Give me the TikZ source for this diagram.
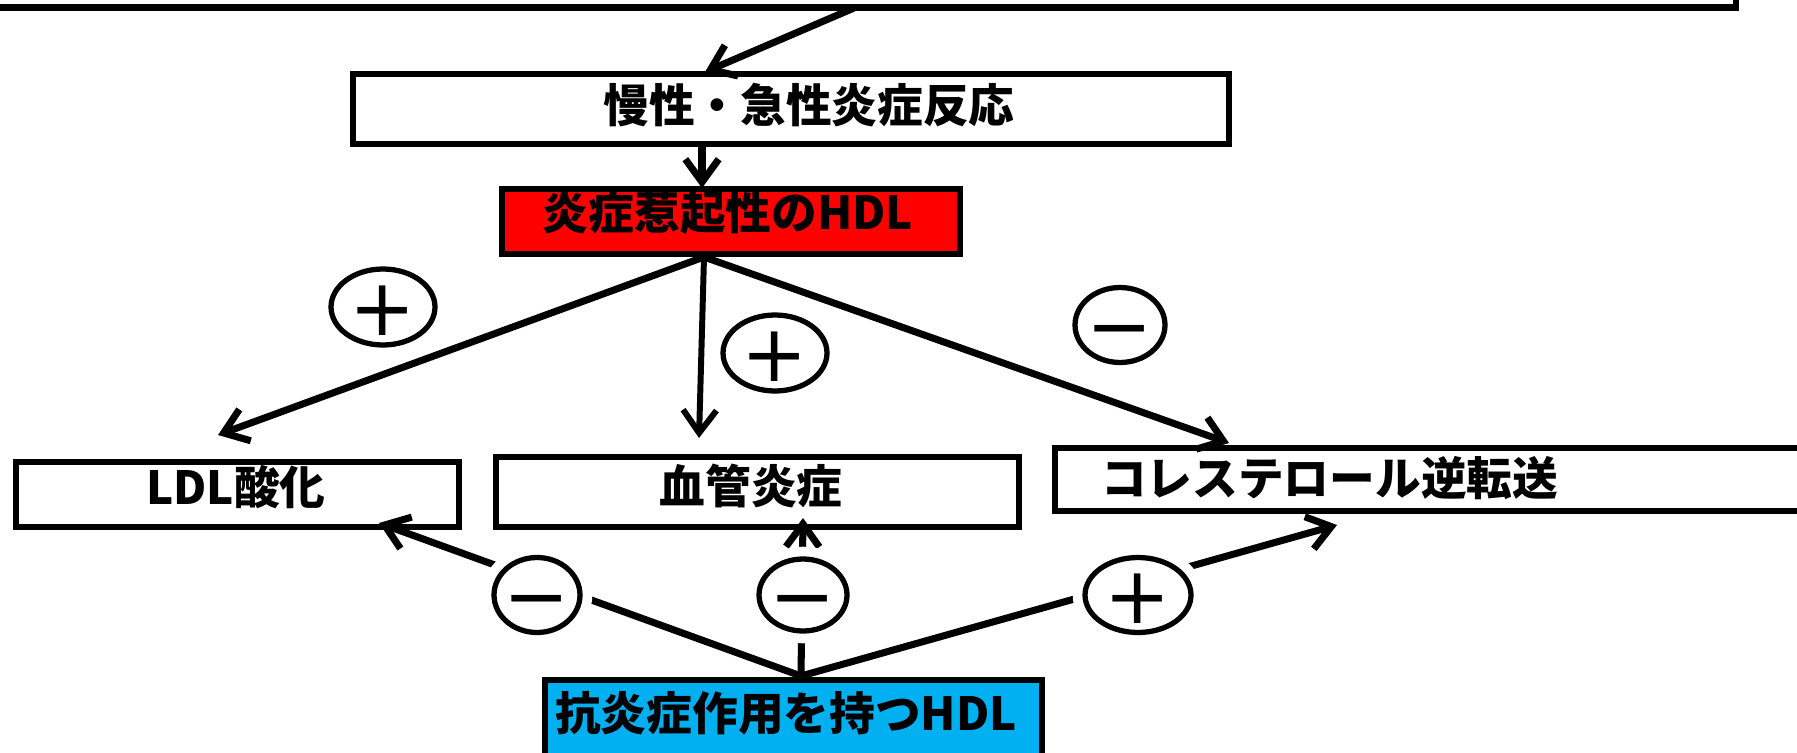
\documentclass[tikz,border=0pt]{standalone}
\usepackage{fontspec}
\newfontfamily\jp{Noto Sans CJK JP}
\newfontfamily\signfont{DejaVu Sans}
\usetikzlibrary{arrows.meta,shapes.geometric}
\definecolor{hdlred}{RGB}{255,0,0}
\definecolor{hdlblue}{RGB}{0,176,240}
\newcommand\sgn[1]{\raisebox{-0.358em}{\makebox[0pt]{#1}}}
\begin{document}
\begin{tikzpicture}[x=0.02cm,y=-0.02cm,
  box/.style={draw=black,line width=3.6pt,rectangle,inner sep=0pt,fill=white},
  txt/.style={font=\jp\bfseries\fontsize{26}{30}\selectfont,inner sep=0pt},
  arr/.style={line width=4pt,-{Straight Barb[length=13pt,width=19pt]}},
  sign/.style={ellipse,draw=black,line width=3pt,fill=white,inner sep=0pt,
    text height=0pt,text depth=0pt,font=\signfont\fontsize{45}{45}\selectfont},
  gap/.style={preaction={draw=white,line width=14pt}},
]
\useasboundingbox (0,0) rectangle (1797,753);

% boxes
\node[box,minimum width=35.52cm,minimum height=1.35cm] (top) at (848,-26.25) {};
\node[box,minimum width=17.52cm,minimum height=1.4cm,
  label={[txt,xshift=0.36cm,yshift=0.08cm]center:慢性・急性炎症反応}] (mansei) at (791,109) {};
\node[box,fill=hdlred,minimum width=9.16cm,minimum height=1.3cm,
  label={[txt,xshift=-0.06cm,yshift=0.17cm]center:炎症惹起性のHDL}] (red) at (731,221.5) {};
\node[box,minimum width=8.86cm,minimum height=1.3cm,
  label={[txt,xshift=-0.03cm,yshift=0.15cm]center:LDL酸化}] (ldl) at (237.5,494.5) {};
\node[box,minimum width=10.46cm,minimum height=1.4cm,
  label={[txt,xshift=-0.13cm,yshift=0.12cm]center:血管炎症}] (kekkan) at (757.5,492) {};
\node[box,minimum width=15.7cm,minimum height=1.26cm,
  label={[txt,anchor=west,xshift=0.98cm,yshift=0.03cm]west:コレステロール逆転送}] (chol) at (1447.5,479.5) {};
\node[box,fill=hdlblue,minimum width=9.94cm,minimum height=2.8cm,
  label={[txt,xshift=-0.15cm,yshift=0.74cm]center:抗炎症作用を持つHDL}] (blue) at (793.5,750) {};

% connector end points
\coordinate (topOut) at (854,8);
\coordinate (manseiIn) at (705,72);
\coordinate (manseiOut) at (702,146);
\coordinate (redIn) at (702,188);
\coordinate (redOut) at (704,257);
\coordinate (ldlIn) at (218,435);
\coordinate (kekkanIn) at (699,438);
\coordinate (cholIn) at (1229,443);
\coordinate (blueOut) at (801,676);
\coordinate (ldlIn2) at (379,523);
\coordinate (kekkanIn2) at (803,518);
\coordinate (cholIn2) at (1337,525);

% connectors
\draw[arr] (topOut) -- (manseiIn);
\draw[arr] (manseiOut) -- (redIn);
\draw[arr] (redOut) -- (ldlIn);
\draw[arr,line width=3.4pt] (redOut) -- (kekkanIn);
\draw[arr] (redOut) -- (cholIn);
\draw[arr] (blueOut) -- (ldlIn2);
\draw[arr] (blueOut) -- (kekkanIn2);
\draw[arr] (blueOut) -- (cholIn2);

% signs
\node[sign,minimum width=2.08cm,minimum height=1.52cm] (p1) at (383,307) {\sgn{+}};
\node[sign,minimum width=2.08cm,minimum height=1.52cm] (p2) at (775,353) {\sgn{+}};
\node[sign,minimum width=1.8cm,minimum height=1.5cm] (m1) at (1120,325) {\sgn{−}};
\node[sign,gap,minimum width=1.72cm,minimum height=1.5cm] (m2) at (537,595) {\sgn{−}};
\node[sign,gap,minimum width=1.76cm,minimum height=1.44cm] (m3) at (803,595) {\sgn{−}};
\node[sign,gap,minimum width=2.12cm,minimum height=1.5cm] (p3) at (1138,595) {\sgn{+}};
\end{tikzpicture}
\end{document}
